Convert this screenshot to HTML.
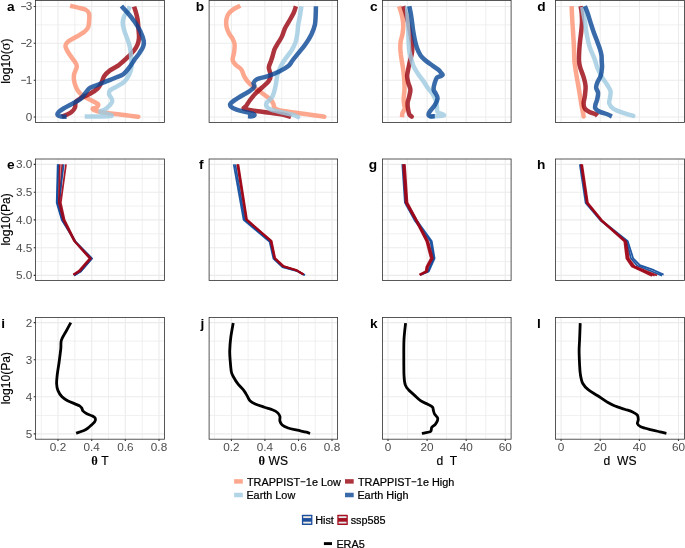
<!DOCTYPE html>
<html><head><meta charset="utf-8"><title>figure</title>
<style>html,body{margin:0;padding:0;background:#fff;}svg{display:block;will-change:transform;}text{font-family:"Liberation Sans",sans-serif;}</style></head>
<body>
<svg width="685" height="548" viewBox="0 0 685 548">
<rect width="685" height="548" fill="#fff"/>
<g>
<path d="M41.3,0.5V122.4M74.8,0.5V122.4M108.5,0.5V122.4M142.2,0.5V122.4M35.5,24.9H164.5M35.5,61.7H164.5M35.5,98.6H164.5" stroke="#EBEBEB" stroke-width="0.75" fill="none"/>
<path d="M58.0,0.5V122.4M91.7,0.5V122.4M125.3,0.5V122.4M159.0,0.5V122.4M35.5,6.5H164.5M35.5,43.3H164.5M35.5,80.2H164.5M35.5,117.0H164.5" stroke="#EBEBEB" stroke-width="1.07" fill="none"/>
</g>
<g>
<path d="M214.6,0.5V122.4M248.1,0.5V122.4M281.7,0.5V122.4M315.2,0.5V122.4M209.1,24.9H337.6M209.1,61.7H337.6M209.1,98.6H337.6" stroke="#EBEBEB" stroke-width="0.75" fill="none"/>
<path d="M231.4,0.5V122.4M264.9,0.5V122.4M298.5,0.5V122.4M332.0,0.5V122.4M209.1,6.5H337.6M209.1,43.3H337.6M209.1,80.2H337.6M209.1,117.0H337.6" stroke="#EBEBEB" stroke-width="1.07" fill="none"/>
</g>
<g>
<path d="M407.6,0.5V122.4M446.6,0.5V122.4M485.8,0.5V122.4M382.5,24.9H511.1M382.5,61.7H511.1M382.5,98.6H511.1" stroke="#EBEBEB" stroke-width="0.75" fill="none"/>
<path d="M388.0,0.5V122.4M427.1,0.5V122.4M466.2,0.5V122.4M505.3,0.5V122.4M382.5,6.5H511.1M382.5,43.3H511.1M382.5,80.2H511.1M382.5,117.0H511.1" stroke="#EBEBEB" stroke-width="1.07" fill="none"/>
</g>
<g>
<path d="M580.7,0.5V122.4M619.8,0.5V122.4M658.9,0.5V122.4M555.5,24.9H684.5M555.5,61.7H684.5M555.5,98.6H684.5" stroke="#EBEBEB" stroke-width="0.75" fill="none"/>
<path d="M561.1,0.5V122.4M600.2,0.5V122.4M639.4,0.5V122.4M678.5,0.5V122.4M555.5,6.5H684.5M555.5,43.3H684.5M555.5,80.2H684.5M555.5,117.0H684.5" stroke="#EBEBEB" stroke-width="1.07" fill="none"/>
</g>
<g>
<path d="M41.3,159.0V280.4M74.8,159.0V280.4M108.5,159.0V280.4M142.2,159.0V280.4M35.5,178.3H164.5M35.5,206.0H164.5M35.5,233.8H164.5M35.5,261.6H164.5" stroke="#EBEBEB" stroke-width="0.75" fill="none"/>
<path d="M58.0,159.0V280.4M91.7,159.0V280.4M125.3,159.0V280.4M159.0,159.0V280.4M35.5,164.4H164.5M35.5,192.2H164.5M35.5,219.9H164.5M35.5,247.7H164.5M35.5,275.4H164.5" stroke="#EBEBEB" stroke-width="1.07" fill="none"/>
</g>
<g>
<path d="M214.6,159.0V280.4M248.1,159.0V280.4M281.7,159.0V280.4M315.2,159.0V280.4M209.1,178.3H337.6M209.1,206.0H337.6M209.1,233.8H337.6M209.1,261.6H337.6" stroke="#EBEBEB" stroke-width="0.75" fill="none"/>
<path d="M231.4,159.0V280.4M264.9,159.0V280.4M298.5,159.0V280.4M332.0,159.0V280.4M209.1,164.4H337.6M209.1,192.2H337.6M209.1,219.9H337.6M209.1,247.7H337.6M209.1,275.4H337.6" stroke="#EBEBEB" stroke-width="1.07" fill="none"/>
</g>
<g>
<path d="M407.6,159.0V280.4M446.6,159.0V280.4M485.8,159.0V280.4M382.5,178.3H511.1M382.5,206.0H511.1M382.5,233.8H511.1M382.5,261.6H511.1" stroke="#EBEBEB" stroke-width="0.75" fill="none"/>
<path d="M388.0,159.0V280.4M427.1,159.0V280.4M466.2,159.0V280.4M505.3,159.0V280.4M382.5,164.4H511.1M382.5,192.2H511.1M382.5,219.9H511.1M382.5,247.7H511.1M382.5,275.4H511.1" stroke="#EBEBEB" stroke-width="1.07" fill="none"/>
</g>
<g>
<path d="M580.7,159.0V280.4M619.8,159.0V280.4M658.9,159.0V280.4M555.5,178.3H684.5M555.5,206.0H684.5M555.5,233.8H684.5M555.5,261.6H684.5" stroke="#EBEBEB" stroke-width="0.75" fill="none"/>
<path d="M561.1,159.0V280.4M600.2,159.0V280.4M639.4,159.0V280.4M678.5,159.0V280.4M555.5,164.4H684.5M555.5,192.2H684.5M555.5,219.9H684.5M555.5,247.7H684.5M555.5,275.4H684.5" stroke="#EBEBEB" stroke-width="1.07" fill="none"/>
</g>
<g>
<path d="M41.3,317.5V439.2M74.8,317.5V439.2M108.5,317.5V439.2M142.2,317.5V439.2M35.5,341.1H164.5M35.5,378.2H164.5M35.5,415.4H164.5" stroke="#EBEBEB" stroke-width="0.75" fill="none"/>
<path d="M58.0,317.5V439.2M91.7,317.5V439.2M125.3,317.5V439.2M159.0,317.5V439.2M35.5,322.6H164.5M35.5,359.7H164.5M35.5,396.8H164.5M35.5,433.9H164.5" stroke="#EBEBEB" stroke-width="1.07" fill="none"/>
</g>
<g>
<path d="M214.6,317.5V439.2M248.1,317.5V439.2M281.7,317.5V439.2M315.2,317.5V439.2M209.1,341.1H337.6M209.1,378.2H337.6M209.1,415.4H337.6" stroke="#EBEBEB" stroke-width="0.75" fill="none"/>
<path d="M231.4,317.5V439.2M264.9,317.5V439.2M298.5,317.5V439.2M332.0,317.5V439.2M209.1,322.6H337.6M209.1,359.7H337.6M209.1,396.8H337.6M209.1,433.9H337.6" stroke="#EBEBEB" stroke-width="1.07" fill="none"/>
</g>
<g>
<path d="M407.6,317.5V439.2M446.6,317.5V439.2M485.8,317.5V439.2M382.5,341.1H511.1M382.5,378.2H511.1M382.5,415.4H511.1" stroke="#EBEBEB" stroke-width="0.75" fill="none"/>
<path d="M388.0,317.5V439.2M427.1,317.5V439.2M466.2,317.5V439.2M505.3,317.5V439.2M382.5,322.6H511.1M382.5,359.7H511.1M382.5,396.8H511.1M382.5,433.9H511.1" stroke="#EBEBEB" stroke-width="1.07" fill="none"/>
</g>
<g>
<path d="M580.7,317.5V439.2M619.8,317.5V439.2M658.9,317.5V439.2M555.5,341.1H684.5M555.5,378.2H684.5M555.5,415.4H684.5" stroke="#EBEBEB" stroke-width="0.75" fill="none"/>
<path d="M561.1,317.5V439.2M600.2,317.5V439.2M639.4,317.5V439.2M678.5,317.5V439.2M555.5,322.6H684.5M555.5,359.7H684.5M555.5,396.8H684.5M555.5,433.9H684.5" stroke="#EBEBEB" stroke-width="1.07" fill="none"/>
</g>
<path d="M70.1,5.7C71.7,6.1 77.0,7.3 79.6,8.0C82.2,8.7 84.3,9.0 85.9,9.9C87.5,10.8 88.6,11.9 89.1,13.7C89.6,15.5 89.3,18.6 89.1,20.9C88.9,23.2 89.0,25.6 88.1,27.5C87.1,29.4 85.5,31.0 83.4,32.6C81.4,34.2 78.3,35.5 75.8,37.0C73.3,38.5 69.9,40.0 68.2,41.4C66.5,42.8 65.6,43.9 65.4,45.5C65.2,47.1 66.2,48.8 67.3,50.9C68.4,53.0 70.7,56.0 72.0,57.9C73.3,59.8 74.2,60.7 75.0,62.1C75.8,63.5 77.0,64.4 76.8,66.6C76.6,68.8 74.3,72.5 73.9,75.2C73.5,77.9 73.9,80.3 74.5,82.8C75.1,85.3 76.2,88.2 77.7,90.4C79.2,92.6 81.0,94.4 83.4,96.1C85.8,97.8 89.5,99.5 91.9,100.8C94.3,102.1 97.2,102.9 98.0,104.0C98.8,105.1 97.4,106.7 96.5,107.5C95.6,108.3 92.3,108.2 92.6,108.9C92.9,109.6 95.1,110.7 98.3,111.5C101.5,112.3 106.9,112.9 111.5,113.5C116.1,114.1 121.8,114.7 126.1,115.2C130.4,115.7 135.6,116.5 137.5,116.7C139.4,116.9 137.5,116.7 137.5,116.7" stroke="#FC9272" stroke-opacity="0.8" stroke-width="4.5" fill="none" stroke-linejoin="round" stroke-linecap="butt"/>
<path d="M134.1,6.6C134.3,7.4 135.0,9.3 135.6,11.4C136.2,13.5 137.0,16.1 137.5,19.0C138.0,21.9 138.2,25.3 138.4,28.5C138.7,31.7 139.2,35.3 139.0,38.0C138.8,40.7 138.4,42.5 137.5,44.6C136.6,46.8 135.3,48.9 133.7,50.9C132.1,52.9 129.8,55.1 128.0,56.9C126.2,58.7 124.6,60.1 123.0,61.5C121.4,62.9 120.7,63.8 118.5,65.3C116.3,66.8 112.4,68.6 110.0,70.4C107.6,72.2 105.7,74.0 104.3,76.1C102.9,78.2 102.5,80.7 101.4,82.8C100.3,84.9 99.5,86.7 97.6,88.5C95.7,90.3 92.8,92.2 90.0,93.8C87.2,95.4 82.9,96.9 80.5,98.3C78.1,99.7 76.7,100.5 75.8,102.0C74.9,103.5 75.7,105.8 75.0,107.5C74.3,109.2 73.0,110.8 71.5,112.0C70.0,113.2 67.6,114.2 66.0,115.0C64.4,115.8 62.5,116.3 61.8,116.6" stroke="#99000D" stroke-opacity="0.8" stroke-width="4.5" fill="none" stroke-linejoin="round" stroke-linecap="butt"/>
<path d="M129.9,6.3C129.6,7.0 128.9,8.8 128.0,10.4C127.0,12.0 125.1,14.0 124.2,16.1C123.3,18.2 122.7,20.4 122.7,22.8C122.7,25.2 123.5,27.9 124.2,30.4C124.9,32.9 126.1,35.5 127.0,38.0C127.9,40.5 128.9,43.0 129.5,45.5C130.1,48.0 130.5,50.5 130.8,53.1C131.1,55.7 131.3,58.6 131.4,61.0C131.5,63.4 131.8,65.2 131.4,67.6C131.0,70.0 130.1,72.8 128.9,75.2C127.7,77.6 126.2,79.9 124.2,81.8C122.2,83.7 119.0,85.2 116.6,86.6C114.2,88.0 111.3,89.1 110.0,90.4C108.7,91.7 108.8,92.9 109.0,94.2C109.2,95.5 111.0,97.3 111.5,98.5C112.0,99.7 112.5,100.3 112.2,101.5C111.9,102.7 110.8,104.1 109.6,105.4C108.4,106.8 106.3,108.5 104.8,109.6C103.3,110.7 99.4,110.8 100.5,111.8C101.6,112.8 114.1,115.0 111.5,115.8C108.9,116.6 89.2,116.5 84.7,116.6" stroke="#9ECAE1" stroke-opacity="0.8" stroke-width="4.5" fill="none" stroke-linejoin="round" stroke-linecap="butt"/>
<path d="M121.4,6.1C122.5,7.3 125.8,10.7 128.0,13.3C130.2,15.9 132.5,18.8 134.6,21.8C136.7,24.8 138.8,28.1 140.3,31.3C141.8,34.5 143.2,38.3 143.7,40.8C144.2,43.3 143.9,44.5 143.2,46.5C142.5,48.5 140.8,50.9 139.4,53.1C138.0,55.3 136.2,57.2 134.6,59.5C133.0,61.8 131.8,64.1 129.9,66.6C128.0,69.0 125.8,72.3 123.3,74.2C120.8,76.1 117.7,76.7 114.7,78.0C111.7,79.3 108.4,80.5 105.2,81.8C102.0,83.1 98.4,84.5 95.7,85.6C93.0,86.7 90.8,87.2 89.1,88.5C87.4,89.8 86.7,91.5 85.3,93.2C83.9,94.9 82.6,97.2 80.5,98.9C78.4,100.6 75.3,102.0 72.5,103.6C69.7,105.2 65.9,107.0 63.5,108.5C61.1,110.0 59.2,111.4 58.3,112.5C57.3,113.6 57.3,114.5 57.8,115.2C58.3,115.9 59.6,116.2 61.1,116.5C62.6,116.8 65.7,116.8 66.6,116.8" stroke="#084594" stroke-opacity="0.8" stroke-width="4.5" fill="none" stroke-linejoin="round" stroke-linecap="butt"/>
<path d="M240.3,5.7C239.2,6.3 235.6,7.8 233.7,9.1C231.8,10.4 230.1,11.7 228.9,13.3C227.7,15.0 226.9,16.8 226.5,19.0C226.1,21.2 226.1,24.2 226.5,26.6C226.9,29.0 227.9,31.2 228.9,33.2C229.9,35.2 231.8,37.0 232.7,38.9C233.6,40.8 234.4,42.4 234.6,44.6C234.8,46.8 234.4,49.6 234.1,52.2C233.8,54.8 232.4,57.9 232.7,60.0C232.9,62.1 234.2,63.1 235.6,64.7C237.0,66.3 239.9,67.6 241.3,69.5C242.7,71.4 243.0,74.0 244.1,76.1C245.2,78.1 246.0,79.7 247.9,81.8C249.8,83.9 253.1,86.5 255.5,88.5C257.9,90.5 260.1,91.7 262.5,93.5C264.9,95.3 268.4,97.5 270.2,99.2C272.0,101.0 272.7,102.7 273.4,104.0C274.1,105.3 273.4,106.3 274.2,107.3C275.0,108.3 274.8,109.0 278.2,109.9C281.6,110.8 288.9,111.8 294.3,112.6C299.7,113.4 305.5,114.1 310.3,114.8C315.1,115.5 321.1,116.3 323.3,116.6C325.5,116.9 323.3,116.6 323.3,116.6" stroke="#FC9272" stroke-opacity="0.8" stroke-width="4.5" fill="none" stroke-linejoin="round" stroke-linecap="butt"/>
<path d="M295.9,6.3C295.5,7.5 294.7,10.7 293.5,13.3C292.3,15.9 290.1,19.3 288.7,21.8C287.3,24.3 286.0,26.1 284.9,28.5C283.8,30.9 283.2,33.7 282.1,36.1C281.0,38.5 279.6,40.5 278.3,42.7C277.0,44.9 275.4,47.1 274.5,49.3C273.6,51.5 273.2,54.0 272.6,56.0C272.0,58.0 271.6,59.1 271.0,61.0C270.4,62.9 268.9,65.2 268.8,67.6C268.8,70.0 270.7,73.0 270.7,75.2C270.7,77.4 270.2,78.9 268.8,80.9C267.4,83.0 264.3,85.4 262.1,87.5C259.9,89.6 257.5,91.4 255.5,93.5C253.5,95.6 251.7,97.9 250.1,100.0C248.5,102.1 247.1,104.6 246.1,106.0C245.1,107.4 242.7,107.8 244.0,108.6C245.3,109.4 249.7,110.0 254.1,110.7C258.5,111.4 265.1,112.1 270.2,112.8C275.3,113.5 281.1,114.3 284.6,115.0C288.1,115.7 289.9,116.8 291.0,117.2" stroke="#99000D" stroke-opacity="0.8" stroke-width="4.5" fill="none" stroke-linejoin="round" stroke-linecap="butt"/>
<path d="M301.4,6.3C301.2,7.8 300.6,12.1 300.1,15.2C299.6,18.3 298.7,21.5 298.2,24.7C297.7,27.9 297.8,31.2 297.3,34.2C296.8,37.2 296.3,40.0 295.4,42.7C294.4,45.4 293.0,47.9 291.6,50.3C290.2,52.7 288.1,55.1 286.8,56.9C285.5,58.7 284.9,59.2 283.8,61.0C282.7,62.8 281.3,65.2 280.2,67.6C279.1,70.0 278.0,72.3 277.3,75.2C276.6,78.1 276.4,81.7 275.8,84.7C275.2,87.7 274.5,90.8 273.8,93.0C273.1,95.2 272.9,96.0 271.8,97.6C270.7,99.2 267.9,101.1 267.0,102.4C266.1,103.7 265.7,104.4 266.2,105.6C266.7,106.8 267.7,108.2 270.2,109.3C272.7,110.4 277.6,111.4 281.4,112.3C285.1,113.2 290.0,113.9 292.7,114.7C295.4,115.5 297.0,116.5 297.8,116.9C298.6,117.3 297.8,116.9 297.8,116.9" stroke="#9ECAE1" stroke-opacity="0.8" stroke-width="4.5" fill="none" stroke-linejoin="round" stroke-linecap="butt"/>
<path d="M315.9,6.3C315.9,7.8 315.9,12.1 315.7,15.2C315.5,18.3 315.6,21.5 314.9,24.7C314.2,27.9 313.0,31.0 311.5,34.2C310.0,37.4 307.9,40.7 305.8,43.7C303.8,46.7 301.4,49.4 299.2,52.2C297.0,55.0 294.2,58.2 292.5,60.5C290.8,62.8 290.9,63.9 288.7,65.7C286.5,67.5 282.7,69.7 279.2,71.4C275.7,73.1 271.4,74.8 267.8,76.1C264.2,77.4 259.8,77.9 257.4,79.0C255.0,80.1 254.1,81.5 253.6,82.8C253.1,84.1 254.9,85.2 254.3,86.6C253.7,88.0 251.2,89.9 249.8,91.0C248.4,92.1 248.2,92.0 246.1,93.2C244.0,94.4 239.9,96.7 237.3,98.4C234.8,100.1 231.9,101.9 230.8,103.2C229.7,104.5 229.9,105.4 230.8,106.5C231.8,107.6 233.9,108.8 236.5,109.7C239.1,110.6 243.4,111.4 246.1,112.1C248.8,112.8 251.1,113.1 252.5,113.6C253.9,114.1 254.7,114.5 254.6,115.0C254.5,115.5 253.1,116.1 252.0,116.3C250.9,116.5 248.6,116.3 247.9,116.3" stroke="#084594" stroke-opacity="0.8" stroke-width="4.5" fill="none" stroke-linejoin="round" stroke-linecap="butt"/>
<path d="M399.1,6.2C399.4,7.1 400.2,9.3 400.8,11.3C401.4,13.3 402.1,15.7 402.5,18.1C402.9,20.6 403.3,23.4 403.3,26.0C403.3,28.6 402.9,31.4 402.5,33.9C402.1,36.4 401.2,38.4 400.8,40.7C400.4,43.0 400.3,45.2 400.3,47.5C400.3,49.8 400.6,52.0 400.8,54.3C401.1,56.5 401.4,58.5 401.8,61.0C402.2,63.5 402.7,66.0 403.1,69.0C403.5,72.0 404.0,75.8 404.2,79.2C404.4,82.6 404.6,86.2 404.5,89.4C404.4,92.6 403.8,95.8 403.7,98.4C403.6,101.0 404.0,103.5 404.2,105.2C404.4,106.9 405.1,107.3 404.8,108.6C404.5,109.9 403.0,111.7 402.5,113.1C402.0,114.5 402.1,116.5 402.0,117.2" stroke="#FC9272" stroke-opacity="0.8" stroke-width="4.5" fill="none" stroke-linejoin="round" stroke-linecap="butt"/>
<path d="M403.4,6.2C403.7,7.2 404.7,10.0 405.4,12.4C406.1,14.8 407.0,17.8 407.6,20.4C408.2,23.0 408.7,25.5 409.3,28.3C409.9,31.1 410.5,34.5 411.0,37.3C411.5,40.1 411.9,42.8 412.1,45.2C412.3,47.7 412.5,49.4 412.1,52.0C411.8,54.6 410.6,58.4 410.0,61.0C409.4,63.6 409.0,65.4 408.5,67.9C408.0,70.4 407.2,73.3 407.1,75.8C407.1,78.2 407.6,80.3 408.2,82.6C408.8,84.9 410.2,87.1 410.4,89.4C410.6,91.7 409.8,93.9 409.3,96.2C408.8,98.5 407.8,100.7 407.6,103.0C407.4,105.3 407.9,107.9 408.2,109.8C408.5,111.7 408.7,113.2 409.3,114.3C409.9,115.4 411.2,116.1 411.6,116.5C412.0,116.9 411.6,116.5 411.6,116.5" stroke="#99000D" stroke-opacity="0.8" stroke-width="4.5" fill="none" stroke-linejoin="round" stroke-linecap="butt"/>
<path d="M407.1,6.2C407.2,8.0 407.4,13.3 407.6,17.0C407.8,20.7 408.1,24.5 408.2,28.3C408.3,32.1 408.3,35.8 408.5,39.6C408.7,43.4 408.8,47.3 409.3,50.9C409.9,54.5 411.1,58.4 411.8,61.0C412.6,63.6 412.8,64.7 413.8,66.8C414.8,68.9 416.3,71.3 417.8,73.6C419.3,75.9 421.2,78.0 422.9,80.4C424.6,82.9 426.4,86.0 428.0,88.3C429.6,90.5 431.2,91.8 432.5,93.9C433.8,96.0 435.1,98.4 435.9,100.7C436.6,103.0 436.7,105.6 437.0,107.5C437.3,109.4 436.4,110.7 437.6,112.0C438.8,113.3 444.9,114.7 444.0,115.4C443.1,116.2 434.0,116.3 432.0,116.5C430.0,116.7 432.0,116.5 432.0,116.5" stroke="#9ECAE1" stroke-opacity="0.8" stroke-width="4.5" fill="none" stroke-linejoin="round" stroke-linecap="butt"/>
<path d="M409.3,6.2C409.6,7.4 410.3,10.9 410.8,13.6C411.3,16.3 411.7,19.6 412.1,22.6C412.5,25.6 412.8,28.7 413.3,31.7C413.8,34.7 414.4,37.9 415.0,40.7C415.6,43.5 416.3,46.2 417.2,48.6C418.1,51.0 419.3,53.5 420.6,55.4C421.9,57.3 423.4,58.6 425.0,60.0C426.6,61.4 428.0,62.4 430.2,64.0C432.4,65.6 436.3,68.1 438.1,69.6C439.9,71.1 440.4,72.0 441.2,72.9C442.0,73.8 442.8,74.4 442.7,74.9C442.6,75.5 441.6,75.8 440.6,76.2C439.7,76.6 438.0,76.4 437.0,77.5C436.0,78.6 435.4,80.6 434.8,82.6C434.2,84.6 433.4,87.5 433.6,89.4C433.8,91.3 435.2,92.4 435.9,93.9C436.6,95.4 437.8,96.5 437.6,98.4C437.4,100.3 436.0,103.1 434.8,105.2C433.6,107.3 431.2,109.4 430.2,110.9C429.1,112.4 428.5,113.4 428.5,114.3C428.5,115.2 429.1,116.0 430.2,116.3C431.2,116.6 434.0,116.3 434.8,116.3" stroke="#084594" stroke-opacity="0.8" stroke-width="4.5" fill="none" stroke-linejoin="round" stroke-linecap="butt"/>
<path d="M571.6,6.2C571.7,8.0 571.9,13.1 572.1,17.0C572.3,20.9 572.6,25.4 572.9,29.4C573.1,33.4 573.4,36.9 573.6,40.7C573.8,44.5 574.0,48.6 574.1,52.0C574.2,55.4 574.1,57.9 574.4,61.0C574.7,64.1 575.2,67.0 575.7,70.5C576.2,74.0 577.0,78.3 577.7,82.3C578.4,86.2 579.1,90.5 579.7,94.2C580.3,97.9 580.9,101.6 581.4,104.7C581.9,107.8 582.6,110.7 583.0,112.6C583.4,114.5 583.5,115.6 583.6,116.2C583.7,116.8 583.6,116.2 583.6,116.2" stroke="#FC9272" stroke-opacity="0.8" stroke-width="4.5" fill="none" stroke-linejoin="round" stroke-linecap="butt"/>
<path d="M580.6,6.2C580.8,7.4 581.5,10.9 581.7,13.6C581.9,16.3 582.1,19.6 582.0,22.6C581.9,25.6 581.5,28.7 581.2,31.7C580.9,34.7 580.4,37.7 580.1,40.7C579.8,43.7 579.5,46.4 579.3,49.8C579.1,53.2 578.8,58.0 579.0,61.0C579.2,64.0 579.5,65.2 580.3,67.9C581.1,70.6 582.7,74.0 583.6,77.1C584.5,80.2 585.4,83.2 585.6,86.3C585.8,89.4 585.2,92.7 584.9,95.5C584.6,98.3 583.6,101.2 583.6,103.4C583.6,105.6 583.9,107.2 584.9,108.6C585.9,110.0 587.6,110.9 589.5,111.9C591.4,112.9 594.8,113.8 596.1,114.5C597.4,115.2 597.2,115.6 597.4,115.8" stroke="#99000D" stroke-opacity="0.8" stroke-width="4.5" fill="none" stroke-linejoin="round" stroke-linecap="butt"/>
<path d="M582.3,6.8C582.5,7.9 582.9,11.0 583.4,13.6C583.9,16.2 584.6,19.6 585.1,22.6C585.6,25.6 585.8,28.7 586.3,31.7C586.8,34.7 587.4,37.9 588.0,40.7C588.6,43.5 589.4,46.2 590.2,48.6C591.1,51.0 592.2,53.3 593.1,55.4C594.0,57.5 594.6,58.9 595.3,61.0C596.0,63.1 596.3,65.2 597.4,67.9C598.5,70.6 600.4,74.2 602.0,77.1C603.6,79.9 605.9,82.6 607.3,85.0C608.7,87.4 610.2,89.3 610.6,91.5C611.0,93.7 610.1,96.1 609.9,98.1C609.7,100.1 608.7,101.7 609.2,103.4C609.8,105.2 611.0,107.1 613.2,108.6C615.4,110.1 619.2,111.4 622.4,112.6C625.6,113.8 630.9,115.1 632.6,115.6C634.3,116.1 632.6,115.6 632.6,115.6" stroke="#9ECAE1" stroke-opacity="0.8" stroke-width="4.5" fill="none" stroke-linejoin="round" stroke-linecap="butt"/>
<path d="M584.9,6.2C585.3,7.2 586.5,9.8 587.4,12.4C588.3,15.0 589.2,18.5 590.2,21.5C591.2,24.5 592.1,27.5 593.1,30.5C594.1,33.5 595.4,36.6 596.5,39.6C597.6,42.6 599.0,46.0 599.8,48.6C600.6,51.2 601.2,53.3 601.5,55.4C601.8,57.5 601.6,58.9 601.7,61.0C601.8,63.1 602.2,65.4 602.0,67.9C601.8,70.4 601.5,73.4 600.7,75.8C599.9,78.2 598.2,80.3 597.4,82.3C596.6,84.3 596.0,85.8 596.1,87.6C596.2,89.3 597.9,90.8 598.1,92.8C598.3,94.8 597.7,97.4 597.2,99.4C596.8,101.4 595.7,103.2 595.4,104.7C595.1,106.2 594.6,107.4 595.4,108.6C596.2,109.8 597.9,110.9 600.0,111.9C602.1,112.9 605.9,113.7 607.9,114.5C609.9,115.3 611.2,116.2 611.9,116.5" stroke="#084594" stroke-opacity="0.8" stroke-width="4.5" fill="none" stroke-linejoin="round" stroke-linecap="butt"/>
<path d="M62.2,164.3L59.6,202.7L63.9,220.0L74.6,241.2L90.3,258.5L79.4,271.0L73.5,274.7" stroke="#9E0618" stroke-opacity="0.92" stroke-width="1.75" fill="none" stroke-linejoin="round" stroke-linecap="butt"/>
<path d="M57.7,164.3L56.7,202.7L61.8,220.0L75.4,241.9L92.0,258.5L80.6,271.6L74.2,275.4" stroke="#0E4A9C" stroke-opacity="0.92" stroke-width="1.75" fill="none" stroke-linejoin="round" stroke-linecap="butt"/>
<path d="M58.4,164.3L57.3,202.7L62.3,220.0L75.6,241.8L92.0,258.5L80.6,271.6L74.2,275.4" stroke="#0E4A9C" stroke-opacity="0.92" stroke-width="1.75" fill="none" stroke-linejoin="round" stroke-linecap="butt"/>
<path d="M63.7,164.3L58.9,202.7L63.4,220.0L75.0,241.5L91.0,258.5L80.0,271.2L74.0,275.0" stroke="#0E4A9C" stroke-opacity="0.92" stroke-width="1.75" fill="none" stroke-linejoin="round" stroke-linecap="butt"/>
<path d="M59.8,164.3L58.8,202.7L63.2,220.0L74.0,241.0L89.5,258.5L78.8,270.8L73.2,274.4" stroke="#9E0618" stroke-opacity="0.92" stroke-width="1.75" fill="none" stroke-linejoin="round" stroke-linecap="butt"/>
<path d="M66.0,164.3L60.8,202.7L64.6,220.0L75.3,241.5L91.1,258.5L80.0,271.2L73.8,275.0" stroke="#9E0618" stroke-opacity="0.92" stroke-width="1.75" fill="none" stroke-linejoin="round" stroke-linecap="butt"/>
<path d="M233.7,164.3L243.6,219.9L269.6,241.8L273.4,258.6L282.4,267.2L297.2,271.2L304.6,275.2" stroke="#0E4A9C" stroke-opacity="0.92" stroke-width="1.75" fill="none" stroke-linejoin="round" stroke-linecap="butt"/>
<path d="M235.3,164.3L244.8,219.9L270.4,241.6L274.2,258.5L283.0,266.9L297.6,270.9L305.0,275.0" stroke="#0E4A9C" stroke-opacity="0.92" stroke-width="1.75" fill="none" stroke-linejoin="round" stroke-linecap="butt"/>
<path d="M237.2,164.3L246.0,219.6L270.6,241.2L274.4,258.4L282.8,266.4L296.6,270.6L303.2,274.6" stroke="#9E0618" stroke-opacity="0.92" stroke-width="1.75" fill="none" stroke-linejoin="round" stroke-linecap="butt"/>
<path d="M238.4,164.3L247.0,219.5L271.6,240.8L275.2,258.2L283.6,266.0L297.0,270.2L303.6,274.2" stroke="#9E0618" stroke-opacity="0.92" stroke-width="1.75" fill="none" stroke-linejoin="round" stroke-linecap="butt"/>
<path d="M237.8,164.3L246.5,219.6L271.1,241.0L274.8,258.3L283.2,266.2L296.8,270.4L303.4,274.4" stroke="#9E0618" stroke-opacity="0.92" stroke-width="1.75" fill="none" stroke-linejoin="round" stroke-linecap="butt"/>
<path d="M402.3,164.3L404.9,202.7L414.6,220.4L430.5,241.3L433.6,258.4L429.8,266.9L428.0,271.5L420.0,274.8" stroke="#0E4A9C" stroke-opacity="0.92" stroke-width="1.75" fill="none" stroke-linejoin="round" stroke-linecap="butt"/>
<path d="M404.2,164.3L406.8,202.7L416.5,220.0L431.8,241.3L434.6,258.4L430.8,266.9L428.8,271.5L420.3,275.0" stroke="#0E4A9C" stroke-opacity="0.92" stroke-width="1.75" fill="none" stroke-linejoin="round" stroke-linecap="butt"/>
<path d="M403.0,164.3L405.6,202.7L415.5,220.2L426.3,241.3L430.8,258.4L426.3,266.9L425.6,271.3L419.4,274.5" stroke="#9E0618" stroke-opacity="0.92" stroke-width="1.75" fill="none" stroke-linejoin="round" stroke-linecap="butt"/>
<path d="M404.9,164.3L407.5,202.7L416.9,220.2L428.3,241.3L432.8,258.4L428.1,266.9L427.2,271.7L420.0,275.1" stroke="#9E0618" stroke-opacity="0.92" stroke-width="1.75" fill="none" stroke-linejoin="round" stroke-linecap="butt"/>
<path d="M403.7,164.3L406.3,202.7L416.0,220.2L427.3,241.3L431.8,258.4L427.2,266.9L426.4,271.5L419.7,274.8" stroke="#9E0618" stroke-opacity="0.92" stroke-width="1.75" fill="none" stroke-linejoin="round" stroke-linecap="butt"/>
<path d="M579.8,164.3L585.6,202.9L600.3,220.3L626.5,241.3L631.0,258.4L637.5,265.8L651.5,271.2L662.0,275.6" stroke="#0E4A9C" stroke-opacity="0.92" stroke-width="1.75" fill="none" stroke-linejoin="round" stroke-linecap="butt"/>
<path d="M580.8,164.3L586.6,202.9L601.3,220.3L627.8,241.3L633.2,258.4L639.8,265.2L654.0,270.2L663.6,274.6" stroke="#0E4A9C" stroke-opacity="0.92" stroke-width="1.75" fill="none" stroke-linejoin="round" stroke-linecap="butt"/>
<path d="M580.9,164.3L586.6,202.9L600.8,220.3L624.3,241.3L626.4,258.4L631.8,266.4L641.5,271.0L652.0,276.0" stroke="#9E0618" stroke-opacity="0.92" stroke-width="1.75" fill="none" stroke-linejoin="round" stroke-linecap="butt"/>
<path d="M582.2,164.3L587.9,202.9L602.1,220.3L626.2,241.3L628.8,258.4L634.4,266.0L645.0,270.6L657.0,275.4" stroke="#9E0618" stroke-opacity="0.92" stroke-width="1.75" fill="none" stroke-linejoin="round" stroke-linecap="butt"/>
<path d="M581.5,164.3L587.2,202.9L601.4,220.3L625.2,241.3L627.6,258.4L633.1,266.2L643.2,270.8L654.5,275.7" stroke="#9E0618" stroke-opacity="0.92" stroke-width="1.75" fill="none" stroke-linejoin="round" stroke-linecap="butt"/>
<path d="M70.8,322.7C70.0,324.2 67.6,328.6 66.0,331.5C64.4,334.4 62.3,337.3 61.4,340.2C60.5,343.1 61.2,345.0 60.8,348.7C60.4,352.4 59.7,357.8 59.1,362.2C58.5,366.6 57.6,371.4 57.2,375.0C56.8,378.6 56.5,381.2 56.6,383.8C56.7,386.4 57.1,388.4 58.0,390.6C58.9,392.8 60.4,395.1 62.0,396.8C63.6,398.5 65.5,399.6 67.6,400.7C69.7,401.8 72.4,402.8 74.4,403.6C76.4,404.5 78.3,405.1 79.5,405.8C80.7,406.6 81.2,407.2 81.8,408.1C82.4,409.0 82.1,409.9 82.9,410.9C83.7,411.8 85.2,412.9 86.8,413.8C88.4,414.7 91.1,415.2 92.5,416.0C93.9,416.8 94.9,417.4 95.3,418.3C95.7,419.2 95.4,420.6 94.8,421.7C94.2,422.8 92.6,424.0 91.4,425.1C90.2,426.2 88.7,427.6 87.4,428.5C86.1,429.4 85.3,429.9 83.4,430.7C81.5,431.5 77.3,432.8 76.1,433.2" stroke="#000" stroke-width="2.8" fill="none" stroke-linejoin="round" stroke-linecap="butt"/>
<path d="M233.2,323.1C232.8,325.5 231.4,332.6 230.8,337.2C230.2,341.8 229.8,346.6 229.7,350.7C229.6,354.8 230.0,358.3 230.3,361.9C230.6,365.4 230.9,369.5 231.4,372.0C231.9,374.5 232.4,375.0 233.5,377.0C234.6,379.0 236.3,381.9 238.1,384.2C239.9,386.5 242.6,388.8 244.1,390.8C245.6,392.8 246.3,394.5 247.3,396.1C248.3,397.8 248.7,399.4 250.0,400.7C251.3,402.0 252.8,402.8 255.2,403.9C257.6,405.0 261.5,406.2 264.4,407.2C267.2,408.2 270.1,408.9 272.3,409.8C274.5,410.7 276.3,411.6 277.6,412.7C278.9,413.8 279.5,415.0 279.9,416.4C280.3,417.8 279.5,419.6 279.9,421.0C280.3,422.4 280.8,423.8 282.2,425.0C283.6,426.2 285.6,427.1 288.1,428.0C290.6,428.9 294.2,429.5 297.3,430.2C300.4,430.9 304.4,431.6 306.5,432.2C308.6,432.8 309.5,433.3 310.1,433.5" stroke="#000" stroke-width="2.8" fill="none" stroke-linejoin="round" stroke-linecap="butt"/>
<path d="M405.6,323.1C405.3,325.8 404.3,333.7 404.0,339.4C403.7,345.1 403.8,351.4 403.8,357.4C403.8,363.4 403.8,370.8 404.0,375.4C404.2,380.0 404.5,382.5 405.3,384.9C406.1,387.3 407.2,388.3 408.7,390.0C410.2,391.7 412.3,393.3 414.3,395.1C416.3,396.9 418.3,399.2 420.5,400.7C422.7,402.2 425.3,403.1 427.3,404.1C429.3,405.2 431.4,405.9 432.4,407.0C433.4,408.1 433.1,409.7 433.5,410.9C433.9,412.1 434.0,413.2 434.7,414.3C435.4,415.4 437.0,416.7 437.5,417.7C438.0,418.7 437.9,419.4 437.5,420.5C437.1,421.6 436.1,423.4 435.2,424.5C434.2,425.6 432.4,426.4 431.8,427.3C431.2,428.2 431.6,428.9 431.3,429.6C431.0,430.4 431.7,431.2 430.1,431.8C428.5,432.4 423.3,433.2 421.9,433.5" stroke="#000" stroke-width="2.8" fill="none" stroke-linejoin="round" stroke-linecap="butt"/>
<path d="M580.2,323.1C580.1,325.8 579.8,334.8 579.6,339.4C579.4,344.0 579.1,346.4 579.1,350.7C579.1,355.0 579.4,361.0 579.6,365.0C579.8,369.0 579.9,371.5 580.4,374.6C580.9,377.7 581.4,380.9 582.8,383.5C584.1,386.1 586.1,387.9 588.5,389.9C590.9,391.9 594.2,393.5 597.3,395.5C600.4,397.5 603.9,400.1 606.9,401.9C609.9,403.6 612.0,404.8 615.0,406.0C618.0,407.2 621.7,408.2 624.6,409.2C627.5,410.2 630.5,410.9 632.6,411.9C634.7,412.9 636.5,413.8 637.4,415.1C638.3,416.4 638.3,418.2 638.3,419.6C638.3,421.0 637.0,422.4 637.4,423.6C637.8,424.8 638.6,425.8 640.7,426.8C642.9,427.8 647.1,428.8 650.3,429.6C653.5,430.4 657.2,431.2 659.9,431.8C662.6,432.4 665.3,433.1 666.4,433.3" stroke="#000" stroke-width="2.8" fill="none" stroke-linejoin="round" stroke-linecap="butt"/>
<rect x="35.5" y="0.5" width="129.0" height="122.0" fill="none" stroke="#333" stroke-width="0.82"/>
<path d="M33.7,6.5H35.5M33.7,43.3H35.5M33.7,80.2H35.5M33.7,117.0H35.5" stroke="#333" stroke-width="1.1"/>
<rect x="209.1" y="0.5" width="128.5" height="122.0" fill="none" stroke="#333" stroke-width="0.82"/>
<rect x="382.5" y="0.5" width="128.6" height="122.0" fill="none" stroke="#333" stroke-width="0.82"/>
<rect x="555.5" y="0.5" width="129.0" height="122.0" fill="none" stroke="#333" stroke-width="0.82"/>
<rect x="35.5" y="159.0" width="129.0" height="121.4" fill="none" stroke="#333" stroke-width="0.82"/>
<path d="M33.7,164.4H35.5M33.7,192.2H35.5M33.7,219.9H35.5M33.7,247.7H35.5M33.7,275.4H35.5" stroke="#333" stroke-width="1.1"/>
<rect x="209.1" y="159.0" width="128.5" height="121.4" fill="none" stroke="#333" stroke-width="0.82"/>
<rect x="382.5" y="159.0" width="128.6" height="121.4" fill="none" stroke="#333" stroke-width="0.82"/>
<rect x="555.5" y="159.0" width="129.0" height="121.4" fill="none" stroke="#333" stroke-width="0.82"/>
<rect x="35.5" y="317.5" width="129.0" height="121.7" fill="none" stroke="#333" stroke-width="0.82"/>
<path d="M33.7,322.6H35.5M33.7,359.7H35.5M33.7,396.8H35.5M33.7,433.9H35.5" stroke="#333" stroke-width="1.1"/>
<path d="M58.0,439.2V441.0M91.7,439.2V441.0M125.3,439.2V441.0M159.0,439.2V441.0" stroke="#333" stroke-width="1.1"/>
<rect x="209.1" y="317.5" width="128.5" height="121.7" fill="none" stroke="#333" stroke-width="0.82"/>
<path d="M231.4,439.2V441.0M264.9,439.2V441.0M298.5,439.2V441.0M332.0,439.2V441.0" stroke="#333" stroke-width="1.1"/>
<rect x="382.5" y="317.5" width="128.6" height="121.7" fill="none" stroke="#333" stroke-width="0.82"/>
<path d="M388.0,439.2V441.0M427.1,439.2V441.0M466.2,439.2V441.0M505.3,439.2V441.0" stroke="#333" stroke-width="1.1"/>
<rect x="555.5" y="317.5" width="129.0" height="121.7" fill="none" stroke="#333" stroke-width="0.82"/>
<path d="M561.1,439.2V441.0M600.2,439.2V441.0M639.4,439.2V441.0M678.5,439.2V441.0" stroke="#333" stroke-width="1.1"/>
<text x="32.4" y="10.4" text-anchor="end" font-family="Liberation Sans, sans-serif" font-size="11.75" fill="#4D4D4D">3</text>
<path d="M21.2,6.60h4.9" stroke="#4D4D4D" stroke-width="0.95"/>
<text x="32.4" y="47.3" text-anchor="end" font-family="Liberation Sans, sans-serif" font-size="11.75" fill="#4D4D4D">2</text>
<path d="M21.2,43.45h4.9" stroke="#4D4D4D" stroke-width="0.95"/>
<text x="32.4" y="84.2" text-anchor="end" font-family="Liberation Sans, sans-serif" font-size="11.75" fill="#4D4D4D">1</text>
<path d="M21.2,80.30h4.9" stroke="#4D4D4D" stroke-width="0.95"/>
<text x="32.4" y="121.0" text-anchor="end" font-family="Liberation Sans, sans-serif" font-size="11.75" fill="#4D4D4D">0</text>
<text x="32.4" y="168.4" text-anchor="end" font-family="Liberation Sans, sans-serif" font-size="11.75" fill="#4D4D4D">3.0</text>
<text x="32.4" y="196.2" text-anchor="end" font-family="Liberation Sans, sans-serif" font-size="11.75" fill="#4D4D4D">3.5</text>
<text x="32.4" y="223.9" text-anchor="end" font-family="Liberation Sans, sans-serif" font-size="11.75" fill="#4D4D4D">4.0</text>
<text x="32.4" y="251.7" text-anchor="end" font-family="Liberation Sans, sans-serif" font-size="11.75" fill="#4D4D4D">4.5</text>
<text x="32.4" y="279.4" text-anchor="end" font-family="Liberation Sans, sans-serif" font-size="11.75" fill="#4D4D4D">5.0</text>
<text x="32.4" y="326.6" text-anchor="end" font-family="Liberation Sans, sans-serif" font-size="11.75" fill="#4D4D4D">2</text>
<text x="32.4" y="363.7" text-anchor="end" font-family="Liberation Sans, sans-serif" font-size="11.75" fill="#4D4D4D">3</text>
<text x="32.4" y="400.8" text-anchor="end" font-family="Liberation Sans, sans-serif" font-size="11.75" fill="#4D4D4D">4</text>
<text x="32.4" y="437.9" text-anchor="end" font-family="Liberation Sans, sans-serif" font-size="11.75" fill="#4D4D4D">5</text>
<text x="58.0" y="450.6" text-anchor="middle" font-family="Liberation Sans, sans-serif" font-size="11.75" fill="#4D4D4D">0.2</text>
<text x="91.7" y="450.6" text-anchor="middle" font-family="Liberation Sans, sans-serif" font-size="11.75" fill="#4D4D4D">0.4</text>
<text x="125.3" y="450.6" text-anchor="middle" font-family="Liberation Sans, sans-serif" font-size="11.75" fill="#4D4D4D">0.6</text>
<text x="159.0" y="450.6" text-anchor="middle" font-family="Liberation Sans, sans-serif" font-size="11.75" fill="#4D4D4D">0.8</text>
<text x="100.0" y="464.5" text-anchor="middle" font-family="Liberation Sans, sans-serif" font-size="12.1" fill="#000" stroke="#000" stroke-width="0.16" xml:space="preserve"><tspan font-family="Liberation Serif, serif" font-size="12.6" font-weight="bold" stroke="none">θ</tspan> T</text>
<text x="231.4" y="450.6" text-anchor="middle" font-family="Liberation Sans, sans-serif" font-size="11.75" fill="#4D4D4D">0.2</text>
<text x="264.9" y="450.6" text-anchor="middle" font-family="Liberation Sans, sans-serif" font-size="11.75" fill="#4D4D4D">0.4</text>
<text x="298.5" y="450.6" text-anchor="middle" font-family="Liberation Sans, sans-serif" font-size="11.75" fill="#4D4D4D">0.6</text>
<text x="332.0" y="450.6" text-anchor="middle" font-family="Liberation Sans, sans-serif" font-size="11.75" fill="#4D4D4D">0.8</text>
<text x="273.3" y="464.5" text-anchor="middle" font-family="Liberation Sans, sans-serif" font-size="12.1" fill="#000" stroke="#000" stroke-width="0.16" xml:space="preserve"><tspan font-family="Liberation Serif, serif" font-size="12.6" font-weight="bold" stroke="none">θ</tspan> WS</text>
<text x="388.0" y="450.6" text-anchor="middle" font-family="Liberation Sans, sans-serif" font-size="11.75" fill="#4D4D4D">0</text>
<text x="427.1" y="450.6" text-anchor="middle" font-family="Liberation Sans, sans-serif" font-size="11.75" fill="#4D4D4D">20</text>
<text x="466.2" y="450.6" text-anchor="middle" font-family="Liberation Sans, sans-serif" font-size="11.75" fill="#4D4D4D">40</text>
<text x="505.3" y="450.6" text-anchor="middle" font-family="Liberation Sans, sans-serif" font-size="11.75" fill="#4D4D4D">60</text>
<text x="446.8" y="464.5" text-anchor="middle" font-family="Liberation Sans, sans-serif" font-size="12.1" fill="#000" stroke="#000" stroke-width="0.16" xml:space="preserve">d  T</text>
<text x="561.1" y="450.6" text-anchor="middle" font-family="Liberation Sans, sans-serif" font-size="11.75" fill="#4D4D4D">0</text>
<text x="600.2" y="450.6" text-anchor="middle" font-family="Liberation Sans, sans-serif" font-size="11.75" fill="#4D4D4D">20</text>
<text x="639.4" y="450.6" text-anchor="middle" font-family="Liberation Sans, sans-serif" font-size="11.75" fill="#4D4D4D">40</text>
<text x="678.5" y="450.6" text-anchor="middle" font-family="Liberation Sans, sans-serif" font-size="11.75" fill="#4D4D4D">60</text>
<text x="620.0" y="464.5" text-anchor="middle" font-family="Liberation Sans, sans-serif" font-size="12.1" fill="#000" stroke="#000" stroke-width="0.16" xml:space="preserve">d  WS</text>
<text transform="translate(9.5,61.1) rotate(-90)" text-anchor="middle" font-family="Liberation Sans, sans-serif" font-size="12.1" fill="#000" stroke="#000" stroke-width="0.16">log10(<tspan font-family="Liberation Serif, serif" font-size="14.2" stroke-width="0.05">σ</tspan>)</text>
<text transform="translate(9.5,219.4) rotate(-90)" text-anchor="middle" font-family="Liberation Sans, sans-serif" font-size="12.1" fill="#000" stroke="#000" stroke-width="0.16">log10(Pa)</text>
<text transform="translate(9.5,378.1) rotate(-90)" text-anchor="middle" font-family="Liberation Sans, sans-serif" font-size="12.1" fill="#000" stroke="#000" stroke-width="0.16">log10(Pa)</text>
<text x="7.0" y="10.8" font-family="Liberation Sans, sans-serif" font-size="13.7" font-weight="bold" fill="#000">a</text>
<text x="195.7" y="10.9" font-family="Liberation Sans, sans-serif" font-size="13.7" font-weight="bold" fill="#000">b</text>
<text x="370.1" y="10.8" font-family="Liberation Sans, sans-serif" font-size="13.7" font-weight="bold" fill="#000">c</text>
<text x="537.3" y="10.9" font-family="Liberation Sans, sans-serif" font-size="13.7" font-weight="bold" fill="#000">d</text>
<text x="7.0" y="168.9" font-family="Liberation Sans, sans-serif" font-size="13.7" font-weight="bold" fill="#000">e</text>
<text x="199.0" y="169.0" font-family="Liberation Sans, sans-serif" font-size="13.7" font-weight="bold" fill="#000">f</text>
<text x="368.8" y="169.0" font-family="Liberation Sans, sans-serif" font-size="13.7" font-weight="bold" fill="#000">g</text>
<text x="537.1" y="169.0" font-family="Liberation Sans, sans-serif" font-size="13.7" font-weight="bold" fill="#000">h</text>
<text x="1.3" y="327.8" font-family="Liberation Sans, sans-serif" font-size="13.7" font-weight="bold" fill="#000">i</text>
<text x="200.4" y="327.8" font-family="Liberation Sans, sans-serif" font-size="13.7" font-weight="bold" fill="#000">j</text>
<text x="370.1" y="327.9" font-family="Liberation Sans, sans-serif" font-size="13.7" font-weight="bold" fill="#000">k</text>
<text x="537.0" y="328.0" font-family="Liberation Sans, sans-serif" font-size="13.7" font-weight="bold" fill="#000">l</text>
<path d="M234.1,481.4h8.7" stroke="#FC9272" stroke-opacity="0.8" stroke-width="4.5"/>
<path d="M345.0,481.4h8.7" stroke="#99000D" stroke-opacity="0.8" stroke-width="4.5"/>
<path d="M234.1,495.0h8.7" stroke="#9ECAE1" stroke-opacity="0.8" stroke-width="4.5"/>
<path d="M345.0,495.0h8.7" stroke="#084594" stroke-opacity="0.8" stroke-width="4.5"/>
<text x="247.0" y="485.75" font-family="Liberation Sans, sans-serif" font-size="10.85" fill="#000" stroke="#000" stroke-width="0.22">TRAPPIST<tspan font-size="9.3" dy="-0.35" dx="0.2">−</tspan><tspan dy="0.35" dx="0.2">1e Low</tspan></text>
<text x="358.0" y="485.75" font-family="Liberation Sans, sans-serif" font-size="10.85" fill="#000" stroke="#000" stroke-width="0.22">TRAPPIST<tspan font-size="9.3" dy="-0.35" dx="0.2">−</tspan><tspan dy="0.35" dx="0.2">1e High</tspan></text>
<text x="246.4" y="498.85" font-family="Liberation Sans, sans-serif" font-size="10.85" fill="#000" stroke="#000" stroke-width="0.22">Earth Low</text>
<text x="357.4" y="498.85" font-family="Liberation Sans, sans-serif" font-size="10.85" fill="#000" stroke="#000" stroke-width="0.22">Earth High</text>
<rect x="301.9" y="514.7" width="10.5" height="10.3" rx="0.6" fill="#1E50A0"/>
<rect x="303.2" y="516.20" width="7.9" height="1.85" fill="#EFEBE2"/>
<rect x="303.2" y="521.70" width="7.9" height="1.85" fill="#EFEBE2"/>
<rect x="337.3" y="514.7" width="10.5" height="10.3" rx="0.6" fill="#A50F20"/>
<rect x="338.6" y="516.20" width="7.9" height="1.85" fill="#E2E6E6"/>
<rect x="338.6" y="521.70" width="7.9" height="1.85" fill="#E2E6E6"/>
<text x="315.2" y="523.6" font-family="Liberation Sans, sans-serif" font-size="10.85" fill="#000" stroke="#000" stroke-width="0.22">Hist</text>
<text x="350.7" y="523.6" font-family="Liberation Sans, sans-serif" font-size="10.85" fill="#000" stroke="#000" stroke-width="0.22">ssp585</text>
<path d="M323.9,543.6h8.1" stroke="#000" stroke-width="2.9"/>
<text x="336.4" y="548.3" font-family="Liberation Sans, sans-serif" font-size="10.85" fill="#000" stroke="#000" stroke-width="0.22">ERA5</text>
</svg>
</body></html>
